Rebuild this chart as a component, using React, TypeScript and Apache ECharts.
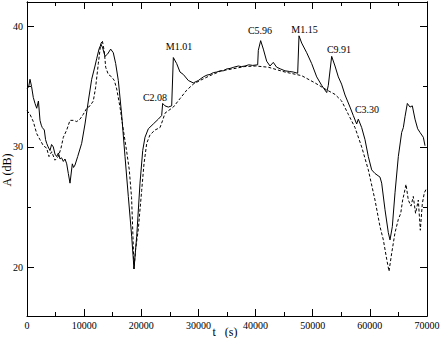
import React, { useEffect, useRef } from "react";
import * as echarts from "echarts";

const solidT = [0, 300, 525, 800, 1100, 1400, 1700, 2000, 2275, 2500, 2680, 3030, 3250, 3440, 3700, 4025, 4300, 4600, 4900, 5200, 5500, 5775, 6050, 6360, 6650, 6950, 7230, 7525, 7930, 8150, 8400, 8870, 9570, 10150, 10730, 11320, 11900, 12190, 12600, 12950, 13240, 13650, 14120, 14640, 15100, 15520, 15980, 16560, 17150, 17730, 18320, 18725, 19200, 19775, 20250, 20650, 21230, 22100, 22980, 23570, 23740, 24150, 24730, 25320, 25610, 26190, 26775, 27360, 28230, 29100, 29980, 30860, 31500, 32025, 32600, 33200, 33800, 34350, 34900, 35525, 36200, 36980, 37500, 38150, 38800, 39500, 40370, 40480, 40890, 41360, 41940, 42525, 43100, 43690, 44400, 45150, 45900, 46600, 47370, 47600, 48070, 48950, 49820, 50700, 51570, 52450, 52730, 53320, 53900, 54480, 55050, 55650, 56525, 57100, 57690, 57980, 58570, 59150, 59730, 60320, 60900, 61775, 62070, 62650, 63230, 63525, 63930, 64400, 64980, 65570, 65860, 66150, 66560, 67030, 67430, 67900, 68370, 68775, 69360, 69650];
const solidA = [34.8, 35.0, 35.6, 35.0, 34.1, 33.6, 33.2, 33.8, 32.2, 31.8, 31.6, 31.4, 30.6, 30.3, 30.0, 29.7, 30.2, 30.0, 29.4, 29.2, 29.5, 29.0, 29.1, 28.8, 29.0, 28.6, 27.8, 27.0, 28.6, 28.3, 28.5, 29.2, 30.3, 31.9, 33.8, 35.6, 36.7, 37.3, 38.1, 38.5, 38.2, 37.5, 37.7, 38.1, 37.8, 36.9, 35.5, 32.7, 29.2, 25.9, 22.6, 19.9, 22.6, 27.0, 29.7, 30.8, 31.5, 31.9, 32.3, 32.6, 33.6, 33.4, 33.3, 33.4, 37.4, 36.9, 36.2, 36.0, 35.5, 35.3, 35.5, 35.8, 35.95, 36.0, 36.15, 36.2, 36.3, 36.3, 36.45, 36.5, 36.6, 36.7, 36.65, 36.7, 36.8, 36.75, 36.8, 38.0, 38.8, 38.1, 37.1, 36.7, 37.0, 36.6, 36.45, 36.3, 36.25, 36.2, 36.1, 39.2, 38.6, 37.8, 36.9, 35.8, 35.1, 34.5, 35.1, 37.5, 36.7, 35.8, 35.2, 34.3, 33.3, 32.6, 31.9, 32.3, 31.6, 30.6, 29.2, 28.1, 27.8, 27.5, 27.0, 24.8, 22.9, 22.3, 23.4, 26.2, 29.2, 31.2, 31.6, 32.5, 33.6, 33.3, 33.4, 32.3, 31.5, 31.2, 30.8, 30.1];

const dashT = [0, 525, 1100, 1700, 2275, 2860, 3440, 3850, 4320, 4900, 5480, 5950, 6360, 6950, 7525, 8100, 8700, 9275, 9850, 10450, 11025, 11600, 12000, 12480, 12890, 13180, 13530, 13770, 14230, 14820, 15280, 15700, 16275, 16860, 17450, 17900, 18300, 18550, 18725, 19000, 19480, 20070, 20475, 20950, 21525, 22400, 23275, 23740, 24150, 24730, 25610, 26775, 27950, 29100, 30275, 32000, 34000, 36400, 38000, 40000, 42230, 45150, 48070, 50400, 52150, 53900, 55070, 56230, 57400, 58570, 59730, 60900, 61775, 62360, 62950, 63350, 63820, 64400, 64980, 65400, 65740, 66030, 66325, 66730, 67200, 67600, 68000, 68480, 68830, 69180, 69530, 69950];
const dashA = [33.0, 32.7, 32.1, 31.1, 30.6, 30.1, 29.9, 29.2, 29.6, 28.9, 29.2, 29.9, 30.8, 31.4, 32.2, 32.2, 32.1, 32.3, 32.7, 33.2, 33.4, 33.8, 34.9, 36.9, 38.5, 38.8, 37.9, 36.6, 36.0, 35.8, 35.5, 34.8, 33.3, 31.4, 29.6, 28.1, 25.8, 22.5, 19.9, 21.5, 23.2, 26.4, 28.6, 30.3, 31.0, 31.4, 31.6, 32.2, 32.8, 33.0, 33.3, 34.0, 34.7, 35.2, 35.5, 35.9, 36.3, 36.5, 36.65, 36.7, 36.6, 36.2, 35.9, 35.3, 34.8, 34.35, 33.8, 32.7, 31.6, 30.0, 28.1, 25.6, 23.4, 22.3, 20.7, 19.7, 21.2, 22.9, 24.0, 24.5, 25.6, 26.2, 26.9, 25.6, 25.1, 25.9, 24.5, 25.6, 23.1, 25.3, 26.2, 26.6];

const noteNames = ["C2.08", "M1.01", "C5.96", "M1.15", "C9.91", "C3.30"];
const noteT = [22400, 26600, 40775, 48560, 54600, 59500];
const noteA = [34.1, 38.3, 39.65, 39.7, 38.1, 33.1];

const yMajor = [20, 30, 40];
const yMinor = [25, 35];

const xTitle = "t   (s)";
const yTitle = "A (dB)";

const FONT = "Liberation Serif";

export default function App() {
  const ref = useRef<HTMLDivElement>(null);
  useEffect(() => {
    if (!ref.current) return;
    const chart = echarts.init(ref.current, undefined, { renderer: "svg" });
    const solid = solidT.map((t, i) => [t, solidA[i]]);
    const dash = dashT.map((t, i) => [t, dashA[i]]);
    const axisLine = { show: true, onZero: false, lineStyle: { color: "#000", width: 1 } };
    const xBase = {
      type: "value",
      min: 0,
      max: 70000,
      interval: 10000,
      axisLine,
      splitLine: { show: false },
      axisTick: { show: true, inside: true, length: 7, lineStyle: { color: "#000" } },
      minorTick: { show: true, splitNumber: 2, length: 4, lineStyle: { color: "#000" } },
    };
    const yBase = (pos: string, vals: number[], len: number, labels: boolean) => ({
      type: "value",
      min: 16,
      max: 42,
      position: pos,
      axisLine,
      splitLine: { show: false },
      axisTick: { show: true, inside: true, length: len, customValues: vals, lineStyle: { color: "#000" } },
      axisLabel: labels
        ? { show: true, customValues: vals, fontFamily: FONT, fontSize: 10, color: "#000", margin: 4 }
        : { show: false },
    });
    chart.setOption({
      animation: false,
      backgroundColor: "#fff",
      grid: { left: 27, right: 14, top: 2, bottom: 22, containLabel: false, outerBoundsMode: "none" },
      graphic: [
        {
          type: "text",
          x: 225,
          y: 332,
          style: { text: xTitle, fontFamily: FONT, fontSize: 12, fill: "#000", align: "center", verticalAlign: "middle" },
        },
        {
          type: "text",
          x: 7,
          y: 170,
          rotation: Math.PI / 2,
          style: { text: yTitle, fontFamily: FONT, fontSize: 12, fill: "#000", align: "center", verticalAlign: "middle" },
        },
      ],
      xAxis: [
        {
          ...xBase,
          position: "bottom",
          axisLabel: {
            fontFamily: FONT,
            fontSize: 10,
            color: "#000",
            margin: 4,
            formatter: (v: number) => String(v),
          },
        },
        { ...xBase, position: "top", axisLabel: { show: false } },
      ],
      yAxis: [
        yBase("left", yMajor, 7, true),
        yBase("left", yMinor, 4, false),
        yBase("right", yMajor, 7, false),
        yBase("right", yMinor, 4, false),
      ],
      series: [
        {
          type: "line",
          data: solid,
          showSymbol: false,
          symbol: "none",
          lineStyle: { color: "#000", width: 1 },
          markPoint: {
            symbol: "circle",
            symbolSize: 0,
            label: { show: true, position: "inside", fontFamily: FONT, fontSize: 10, color: "#000", formatter: "{b}" },
            data: noteNames.map((n, i) => ({ name: n, coord: [noteT[i], noteA[i]] })),
          },
        },
        {
          type: "line",
          data: dash,
          showSymbol: false,
          symbol: "none",
          lineStyle: { color: "#000", width: 1, type: [3, 2] },
        },
      ],
    });
    return () => chart.dispose();
  }, []);
  return (
    <div
      ref={ref}
      style={{ position: "fixed", left: 0, top: 0, width: 441, height: 338, background: "#fff" }}
    />
  );
}
